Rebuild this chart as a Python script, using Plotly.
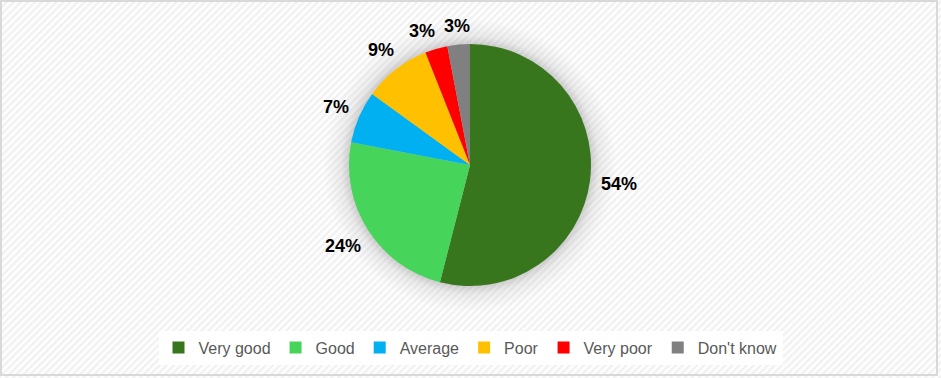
import base64
import math
import plotly.graph_objects as go

labels = ["Very good", "Good", "Average", "Poor", "Very poor", "Don't know"]
values = [54, 24, 7, 9, 3, 3]
colors = ["#38761D", "#47D45A", "#00B0F0", "#FFC000", "#FF0000", "#808080"]

W, H = 941, 378
cx, cy, R = 470, 165, 121
LABEL_FS = 18

svg = f'''<svg xmlns="http://www.w3.org/2000/svg" width="{W}" height="{H}" viewBox="0 0 {W} {H}">
<defs>
<pattern id="p" patternUnits="userSpaceOnUse" width="5" height="5" patternTransform="rotate(45)">
<rect x="0" y="0" width="5" height="5" fill="#ffffff"/>
<rect x="0" y="0" width="2.5" height="5" fill="#f1f1f1"/>
</pattern>
<radialGradient id="g" gradientUnits="userSpaceOnUse" cx="{cx}" cy="{cy}" r="{R+26}">
<stop offset="0" stop-color="#888" stop-opacity="0.45"/>
<stop offset="{(R-2)/(R+26):.3f}" stop-color="#888" stop-opacity="0.45"/>
<stop offset="{(R+8)/(R+26):.3f}" stop-color="#999" stop-opacity="0.18"/>
<stop offset="1" stop-color="#aaa" stop-opacity="0"/>
</radialGradient>
</defs>
<rect x="0" y="0" width="{W}" height="{H}" fill="url(#p)"/>
<circle cx="{cx}" cy="{cy}" r="{R+26}" fill="url(#g)"/>
<rect x="1" y="1" width="{W-5}" height="{H-4}" fill="none" stroke="#d9d9d9" stroke-width="2"/>
</svg>'''
src = "data:image/svg+xml;base64," + base64.b64encode(svg.encode()).decode()

fig = go.Figure()
fig.add_trace(go.Pie(
    labels=labels, values=values, sort=False, direction="clockwise", rotation=0,
    marker=dict(colors=colors, line=dict(width=0)),
    textinfo="none",
    domain=dict(x=[(cx - R) / W, (cx + R) / W], y=[(H - cy - R) / H, (H - cy + R) / H]),
    hoverinfo="label+percent",
))


def place(angle, tw, th):
    s, c = math.sin(angle), math.cos(angle)
    dist = R + 11 + abs(s) * tw / 2 + abs(c) * th / 2
    return cx + dist * s, cy - dist * c


# outside percentage labels at each slice's mid-angle (derived from values),
# nudged counter-clockwise when they would collide with a neighbour
total = sum(values)
cum = 0
items = []
for v in values:
    mid = (cum + v / 2) / total * 2 * math.pi
    cum += v
    txt = f"{round(v / total * 100)}%"
    tw = (len(txt) - 1) * 0.556 * LABEL_FS + 0.889 * LABEL_FS
    th = 0.72 * LABEL_FS
    items.append([mid, txt, tw, th])

placed = []
for i in range(len(items) - 1, -1, -1):
    ang, txt, tw, th = items[i]
    for _ in range(200):
        px, py = place(ang, tw, th)
        ok = True
        for (qx, qy, qw, qh) in placed:
            if abs(px - qx) < (tw + qw) / 2 + 8 and abs(py - qy) < (th + qh) / 2 + 2:
                ok = False
                break
        if ok:
            break
        ang -= math.radians(0.5)
    placed.append((px, py, tw, th))
    items[i].append((px, py))

annotations = []
for ang, txt, tw, th, (px, py) in items:
    annotations.append(dict(
        x=px / W, y=(H - py) / H, xref="paper", yref="paper",
        text=txt, showarrow=False, xanchor="center", yanchor="middle",
        font=dict(family="Liberation Sans", size=LABEL_FS, color="#000000", weight="bold"),
    ))

fig.update_layout(
    width=W, height=H,
    margin=dict(l=0, r=0, t=0, b=0),
    paper_bgcolor="#ffffff", plot_bgcolor="rgba(0,0,0,0)",
    images=[dict(source=src, xref="paper", yref="paper", x=0, y=1, sizex=1, sizey=1,
                 xanchor="left", yanchor="top", sizing="stretch", layer="below")],
    annotations=annotations,
    showlegend=True,
    legend=dict(orientation="h", x=0.5, xanchor="center", y=(H - 347.5) / H, yanchor="middle",
                bgcolor="#ffffff", font=dict(family="Liberation Sans", size=16, color="#595959"),
                itemwidth=30, tracegroupgap=0),
)

fig.write_html("out.html")
